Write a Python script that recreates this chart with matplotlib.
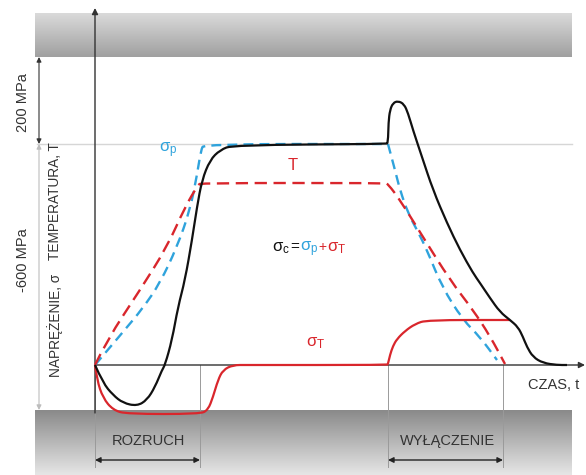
import numpy as np
import matplotlib
matplotlib.use("Agg")
import matplotlib.pyplot as plt
from matplotlib.path import Path
from matplotlib.patches import PathPatch
from matplotlib.colors import LinearSegmentedColormap

plt.rcParams['font.family'] = ['Liberation Sans', 'DejaVu Sans']
plt.rcParams['mathtext.fontset'] = 'custom'
plt.rcParams['mathtext.rm'] = 'Liberation Sans'
plt.rcParams['mathtext.it'] = 'Liberation Sans'

# ---- data (time t, value v; origin at axes crossing) ----
sp_rise_t = [0, 28, 48, 65, 82, 95, 102, 106, 109, 293]
sp_rise_v = [0, 33, 57, 82, 118, 155, 190, 215, 221, 221]
sp_fall_t = [293, 300, 305, 313, 322, 332, 347, 368, 385, 402]
sp_fall_v = [221, 195, 175, 152, 135, 115, 78, 45, 28, 5]

T_t = [0, 12, 45, 72, 90, 103, 106, 290, 293, 305, 328, 355, 378, 395, 410]
T_v = [0, 25, 75, 118, 158, 180, 182, 182, 181, 165, 128, 85, 55, 29, 1]

sT_t = [0, 2, 8, 18, 32, 105, 113, 118, 123, 128, 138, 152, 292,
        293, 295, 298, 302, 310, 320, 332, 415]
sT_v = [0, -15, -33, -45, -49, -49, -45, -32, -15, -5, 0, 0, 0,
        1, 10, 19, 26, 34, 41, 45, 45]

sc_t = [0, 8, 18, 28, 42, 52, 60, 67, 70, 77, 83, 90, 97, 102, 107, 115, 125, 138, 291,
        293, 293.5, 295, 298, 303, 309, 313, 318, 327, 338, 352, 365, 378, 385, 395, 405,
        415, 423, 428, 432, 438, 448, 462, 472]
sc_v = [0, -18, -30, -38, -41, -35, -22, -5, 0, 25, 58, 85, 125, 158, 185, 205, 215, 220, 221,
        222, 243, 255, 262, 264, 261, 252, 235, 208, 175, 142, 115, 92, 82, 67, 53,
        45, 38, 28, 18, 8, 2, 0, 0]

phase_t = [0, 105, 293, 408]
upper_limit, sigma_p_level, lower_limit = 308, 221, -45

BLUE = '#2fa3dc'
RED = '#d9262c'
BLACK = '#111111'
GREY = '#333333'


def smooth_path(xs, ys):
    pts = np.column_stack([xs, ys]).astype(float)
    verts = [pts[0]]
    codes = [Path.MOVETO]
    for i in range(1, len(pts) - 1):
        verts += [pts[i], (pts[i] + pts[i + 1]) / 2]
        codes += [Path.CURVE3, Path.CURVE3]
    verts.append(pts[-1])
    codes.append(Path.LINETO)
    return Path(verts, codes)


def draw_curve(ax, xs, ys, color, lw, dashes=None, z=3):
    ls = '-' if dashes is None else (0, dashes)
    ax.add_patch(PathPatch(smooth_path(xs, ys), fill=False, edgecolor=color, lw=lw,
                           linestyle=ls, capstyle='butt', joinstyle='round', zorder=z))


fig = plt.figure(figsize=(5.86, 4.75), dpi=100)
ax = fig.add_axes([0, 0, 1, 1])
ax.set_xlim(-95, 491)
ax.set_ylim(-110, 365)
ax.axis('off')

# gray bands
grad = np.linspace(0, 1, 100).reshape(-1, 1)
ax.imshow(grad, extent=(-60, 477, upper_limit, 352), aspect='auto',
          cmap=LinearSegmentedColormap.from_list('t', ['#dadada', '#a0a0a0']),
          origin='upper', zorder=0)
ax.imshow(grad, extent=(-60, 477, -110, lower_limit), aspect='auto',
          cmap=LinearSegmentedColormap.from_list('b', ['#e6e6e6', '#8a8a8a']),
          origin='lower', zorder=0)

# light reference line at sigma_p
ax.plot([-58, 477], [sigma_p_level, sigma_p_level], color='#d6d6d6', lw=1, zorder=1)

# phase vertical lines
for t in phase_t:
    ax.plot([t, t], [0, -102], color='#9a9a9a', lw=0.7, zorder=1)

# axes
ax.annotate('', xy=(0, 357), xytext=(0, -48),
            arrowprops=dict(arrowstyle='-|>', color=GREY, lw=1.0, mutation_scale=9,
                            shrinkA=0, shrinkB=0), zorder=2)
ax.annotate('', xy=(490, 0), xytext=(0, 0),
            arrowprops=dict(arrowstyle='-|>', color=GREY, lw=1.0, mutation_scale=9,
                            shrinkA=0, shrinkB=0), zorder=2)

# dimension arrows on the left
ax.annotate('', xy=(-56, upper_limit), xytext=(-56, sigma_p_level),
            arrowprops=dict(arrowstyle='<|-|>', color=GREY, lw=0.8, mutation_scale=7,
                            shrinkA=0, shrinkB=0))
ax.annotate('', xy=(-56, sigma_p_level), xytext=(-56, lower_limit),
            arrowprops=dict(arrowstyle='<|-|>', color='#bdbdbd', lw=0.8, mutation_scale=7,
                            shrinkA=0, shrinkB=0))

# phase arrows
ax.annotate('', xy=(phase_t[0], -95), xytext=(phase_t[1], -95),
            arrowprops=dict(arrowstyle='<|-|>', color='#222222', lw=1.0, mutation_scale=8,
                            shrinkA=0, shrinkB=0))
ax.annotate('', xy=(phase_t[2], -95), xytext=(phase_t[3], -95),
            arrowprops=dict(arrowstyle='<|-|>', color='#222222', lw=1.0, mutation_scale=8,
                            shrinkA=0, shrinkB=0))

# curves
draw_curve(ax, sp_rise_t, sp_rise_v, BLUE, 1.7, (4.2, 2.6), 3)
draw_curve(ax, sp_fall_t, sp_fall_v, BLUE, 1.7, (4.2, 2.6), 3)
draw_curve(ax, T_t, T_v, RED, 1.7, (5.2, 2.8), 3)
draw_curve(ax, sT_t, sT_v, RED, 1.6, None, 4)
draw_curve(ax, sc_t, sc_v, BLACK, 1.6, None, 5)

# texts
fs = 10.5
ax.text(53, -76, 'ROZRUCH', ha='center', va='center', fontsize=fs, color=GREY)
ax.text(352, -76, 'WYŁĄCZENIE', ha='center', va='center', fontsize=fs, color=GREY)
ax.text(459, -20, 'CZAS, t', ha='center', va='center', fontsize=fs, color=GREY)
ax.text(-72, 262, '200 MPa', rotation=90, ha='center', va='center', fontsize=fs, color=GREY)
ax.text(-72, 105, '-600 MPa', rotation=90, ha='center', va='center', fontsize=fs, color=GREY)
ax.text(-40, 164, 'TEMPERATURA, T', rotation=90, ha='center', va='center', fontsize=9.8, color=GREY)
ax.text(-40, 40, 'NAPRĘŻENIE, σ', rotation=90, ha='center', va='center', fontsize=9.8, color=GREY)

ax.text(73, 215, r'$\sigma_\mathrm{p}$', ha='center', va='center', fontsize=12, color=BLUE)
ax.text(198, 200, 'T', ha='center', va='center', fontsize=12, color=RED)
ax.text(221, 22, r'$\sigma_\mathrm{T}$', ha='center', va='center', fontsize=12, color=RED)

# multi-coloured formula, pieces placed side by side on one baseline
pieces = [(r'$\sigma_\mathrm{c}$', BLACK, 12), ('=', BLACK, 11), (r'$\sigma_\mathrm{p}$', BLUE, 12),
          ('+', RED, 10), (r'$\sigma_\mathrm{T}$', RED, 12)]
fig.canvas.draw()
renderer = fig.canvas.get_renderer()
x = 177
for s, c, f in pieces:
    txt = ax.text(x, 114, s, ha='left', va='baseline', fontsize=f, color=c)
    bb = txt.get_window_extent(renderer)
    x = ax.transData.inverted().transform((bb.x1, bb.y0))[0] + 0.5

fig.savefig('out.png', dpi=100)
